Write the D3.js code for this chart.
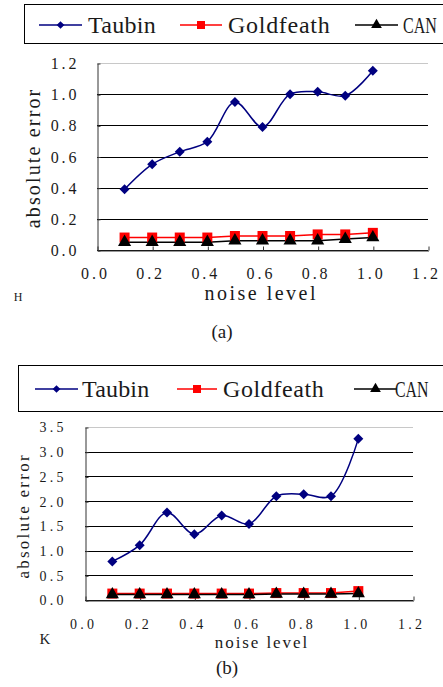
<!DOCTYPE html>
<html>
<head>
<meta charset="utf-8">
<script src="https://cdn.jsdelivr.net/npm/d3@7"></script>
<style>
  html, body { margin: 0; padding: 0; background: #fff; }
  svg { display: block; }
  text { font-family: "Liberation Serif", "DejaVu Serif", serif; fill: #1a1a1a; }
</style>
</head>
<body>
<script>
// noise levels shared by both panels
var noise = [0.1, 0.2, 0.3, 0.4, 0.5, 0.6, 0.7, 0.8, 0.9, 1.0];

var seriesNames = ["Taubin", "Goldfeath", "CAN"];
var xTicks = [0.0, 0.2, 0.4, 0.6, 0.8, 1.0, 1.2];

// panel (a) - H
var taubinH    = [0.39, 0.55, 0.63, 0.695, 0.95, 0.79, 1.00, 1.015, 0.99, 1.15];
var goldfeathH = [0.08, 0.08, 0.08, 0.08, 0.09, 0.09, 0.09, 0.10, 0.10, 0.11];
var canH       = [0.05, 0.05, 0.05, 0.05, 0.06, 0.06, 0.06, 0.06, 0.07, 0.08];
var yTicksH    = [0.0, 0.2, 0.4, 0.6, 0.8, 1.0, 1.2];

// panel (b) - K
var taubinK    = [0.78, 1.11, 1.77, 1.33, 1.71, 1.54, 2.10, 2.14, 2.10, 3.26];
var goldfeathK = [0.13, 0.13, 0.13, 0.13, 0.13, 0.13, 0.14, 0.14, 0.14, 0.18];
var canK       = [0.11, 0.11, 0.11, 0.11, 0.11, 0.11, 0.12, 0.12, 0.12, 0.13];
var yTicksK    = [0.0, 0.5, 1.0, 1.5, 2.0, 2.5, 3.0, 3.5];

var colors = ["#000080", "#ff0000", "#000000"];

var svg = d3.select("body").append("svg")
    .attr("width", 443)
    .attr("height", 687);

// the original uses a half-width CJK font: every glyph sits on a fixed grid.
// wider grid -> spread the letters, narrower grid -> squeeze the glyphs
function monoFit(sel, cellW) {
    sel.each(function() {
        var t = d3.select(this);
        var want = this.textContent.length * cellW;
        var have = this.getComputedTextLength();
        if (have <= want) {
            t.attr("textLength", want).attr("lengthAdjust", "spacing");
        } else {
            var ax = +t.attr("x") || 0, ay = +t.attr("y") || 0, k = want / have;
            t.attr("transform", "translate(" + ax + "," + ay + ") scale(" + k + ",1) translate(" + (-ax) + "," + (-ay) + ")");
        }
    });
}

function panel(cfg) {
    var g = svg.append("g");

    var x = d3.scaleLinear().domain([0, 1.2]).range([cfg.left, cfg.right]);
    var y = d3.scaleLinear().domain(cfg.yDomain).range([cfg.bottom, cfg.top]);

    // legend
    g.append("rect")
        .attr("x", cfg.legend.x + 0.5)
        .attr("y", cfg.legend.y + 0.5)
        .attr("width", 470)
        .attr("height", cfg.legend.h)
        .attr("fill", "#fff")
        .attr("stroke", "#000")
        .attr("stroke-width", 1);

    seriesNames.forEach(function(name, i) {
        var it = cfg.legend.items[i];
        var ly = cfg.legend.ty;
        g.append("line")
            .attr("x1", it[0]).attr("x2", it[1])
            .attr("y1", ly).attr("y2", ly)
            .attr("stroke", colors[i]).attr("stroke-width", 1.5);
        g.append("path")
            .attr("d", markerPath(i, true))
            .attr("transform", "translate(" + ((it[0] + it[1]) / 2) + "," + ly + ")" + (i === 0 ? " rotate(45)" : ""))
            .attr("fill", colors[i]);
        g.append("text")
            .attr("x", it[2])
            .attr("y", ly)
            .attr("dy", "0.33em")
            .attr("font-size", cfg.legend.fs)
            .text(name)
            .call(monoFit, cfg.legend.cell);
    });

    // gridlines
    g.append("g").selectAll("line")
        .data(cfg.yTicks)
        .join("line")
        .attr("x1", cfg.left).attr("x2", cfg.right)
        .attr("y1", d => Math.round(y(d)) + 0.5)
        .attr("y2", d => Math.round(y(d)) + 0.5)
        .attr("stroke", (d, i) => i === cfg.yTicks.length - 1 ? "#c8c8c8" : "#000")
        .attr("stroke-width", 1);

    // y axis
    var yAxis = d3.axisLeft(y)
        .tickValues(cfg.yTicks)
        .tickSizeInner(-3)
        .tickSizeOuter(0)
        .tickPadding(cfg.yPad)
        .tickFormat(d3.format(".1f"));
    var ya = g.append("g")
        .attr("transform", "translate(" + (cfg.left + 0.5) + ",0.5)")
        .call(yAxis);
    ya.attr("font-family", null);
    ya.select(".domain").attr("stroke", "#333");
    ya.selectAll(".tick line").attr("stroke", "#333");
    ya.selectAll("text")
        .attr("font-size", cfg.tickFs)
        .attr("fill", "#222")
        .call(monoFit, cfg.tickCell);

    // x axis
    var xAxis = d3.axisBottom(x)
        .tickValues(xTicks)
        .tickSizeInner(-4)
        .tickSizeOuter(0)
        .tickPadding(cfg.xPad)
        .tickFormat(d3.format(".1f"));
    var xa = g.append("g")
        .attr("transform", "translate(0.5," + (Math.round(cfg.bottom) + 0.5) + ")")
        .call(xAxis);
    xa.attr("font-family", null);
    xa.select(".domain").attr("stroke", "#333");
    xa.selectAll(".tick line").attr("stroke", "#333");
    xa.selectAll("text")
        .attr("font-size", cfg.tickFs)
        .attr("x", -4)
        .attr("fill", "#222")
        .call(monoFit, cfg.tickCell);

    // series
    var sets = [cfg.taubin, cfg.goldfeath, cfg.can];
    sets.forEach(function(vals, i) {
        var pts = noise.map((n, k) => ({ n: n, v: vals[k] }));
        var line = d3.line()
            .x(d => x(d.n))
            .y(d => y(d.v))
            .curve(i === 0 ? d3.curveCatmullRom.alpha(0.5) : d3.curveLinear);
        g.append("path")
            .attr("d", line(pts))
            .attr("fill", "none")
            .attr("stroke", colors[i])
            .attr("stroke-width", 1.5);
    });
    sets.forEach(function(vals, i) {
        g.append("g").selectAll("path")
            .data(noise.map((n, k) => ({ n: n, v: vals[k] })))
            .join("path")
            .attr("d", markerPath(i, false))
            .attr("transform", d => "translate(" + x(d.n) + "," + y(d.v) + ")" + (i === 0 ? " rotate(45)" : ""))
            .attr("fill", colors[i]);
    });

    // axis titles
    g.append("text")
        .attr("transform", "translate(" + cfg.yTitle.x + "," + cfg.yTitle.y + ") rotate(-90)")
        .attr("text-anchor", "middle")
        .attr("dy", "0.33em")
        .attr("font-size", cfg.titleFs)
        .text("absolute error")
        .call(monoFit, cfg.yTitle.cell);

    g.append("text")
        .attr("x", cfg.xTitle.x)
        .attr("y", cfg.xTitle.y)
        .attr("text-anchor", "middle")
        .attr("dy", "0.33em")
        .attr("font-size", cfg.titleFs)
        .text("noise level")
        .call(monoFit, cfg.xTitle.cell);

    g.append("text")
        .attr("x", cfg.tag.x)
        .attr("y", cfg.tag.y)
        .attr("text-anchor", "middle")
        .attr("dy", "0.33em")
        .attr("font-size", cfg.tag.fs)
        .text(cfg.tag.t);

    g.append("text")
        .attr("x", cfg.caption.x)
        .attr("y", cfg.caption.y)
        .attr("text-anchor", "middle")
        .attr("dy", "0.33em")
        .attr("font-size", 19)
        .text(cfg.caption.t);
}

function markerPath(i, small) {
    if (i === 0) return d3.symbol(d3.symbolSquare, small ? 30 : 50)();
    if (i === 1) return d3.symbol(d3.symbolSquare, small ? 64 : 100)();
    return d3.symbol(d3.symbolTriangle, small ? 50 : 75)();
}

panel({
    left: 97, right: 428, top: 63, bottom: 250,
    yDomain: [0, 1.2], yTicks: yTicksH,
    taubin: taubinH, goldfeath: goldfeathH, can: canH,
    yPad: 21, xPad: 17, tickFs: 16, tickCell: 8.6,
    titleFs: 20,
    legend: { x: 24, y: 4, h: 39, ty: 25, fs: 24, cell: 11.3,
              items: [[39, 82, 88], [180, 222, 228], [355, 398, 403]] },
    yTitle: { x: 33, y: 159, cell: 9.9 },
    xTitle: { x: 260, y: 293, cell: 10.1 },
    tag: { x: 18, y: 297, t: "H", fs: 12 },
    caption: { x: 222, y: 332, t: "(a)" }
});

panel({
    left: 85, right: 413, top: 427, bottom: 600,
    yDomain: [0, 3.5], yTicks: yTicksK,
    taubin: taubinK, goldfeath: goldfeathK, can: canK,
    yPad: 22, xPad: 19, tickFs: 14, tickCell: 8,
    titleFs: 17,
    legend: { x: 18, y: 365, h: 46, ty: 389, fs: 24, cell: 11.2,
              items: [[35, 78, 82], [177, 217, 223], [354, 397, 395]] },
    yTitle: { x: 23, y: 517, cell: 8.8 },
    xTitle: { x: 261, y: 642, cell: 8.4 },
    tag: { x: 45, y: 639, t: "K", fs: 15 },
    caption: { x: 227, y: 668, t: "(b)" }
});
</script>
</body>
</html>
